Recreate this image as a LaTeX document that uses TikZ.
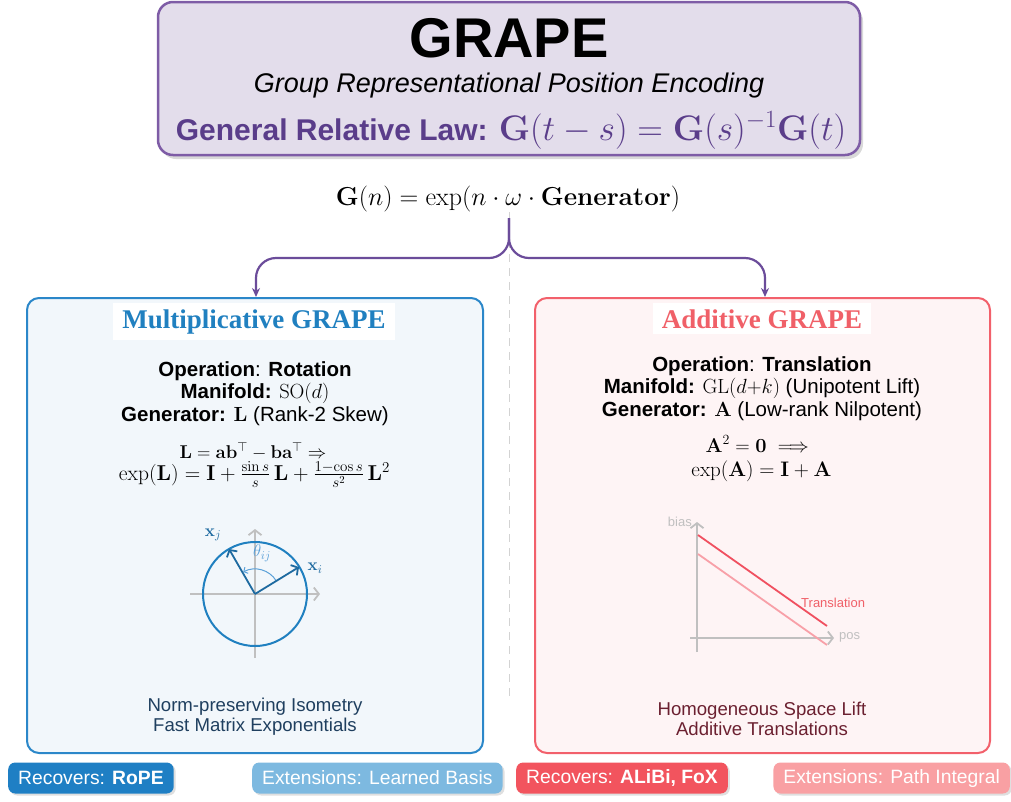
\RequirePackage{fix-cm}
\documentclass[tikz,border=0pt]{standalone}
\usepackage{amsmath}
\usepackage[no-math]{fontspec}
\newfontfamily\hv{Liberation Sans}
\newfontfamily\tms{Liberation Serif}
\usetikzlibrary{shadows,arrows.meta}
\definecolor{pborder}{HTML}{7E5CA6}
\definecolor{pfill}{HTML}{E3DDEB}
\definecolor{ptext}{HTML}{5A3D8A}
\definecolor{pbrace}{HTML}{6B4C9A}
\definecolor{bborder}{HTML}{2B87C9}
\definecolor{bfill}{HTML}{F2F7FB}
\definecolor{btitle}{HTML}{2080C0}
\definecolor{bdark}{HTML}{1E6AA0}
\definecolor{blight}{HTML}{5AA0D8}
\definecolor{btext}{HTML}{1F3F5F}
\definecolor{rborder}{HTML}{F2606B}
\definecolor{rfill}{HTML}{FEF4F5}
\definecolor{rtitle}{HTML}{F06068}
\definecolor{rline}{HTML}{F05060}
\definecolor{rlight}{HTML}{F8A0A8}
\definecolor{rtext}{HTML}{6B2030}
\definecolor{axgray}{HTML}{C0C0C0}
\definecolor{pillA}{HTML}{1F7FC4}
\definecolor{pillB}{HTML}{7DB9E0}
\definecolor{pillC}{HTML}{F2545E}
\definecolor{pillD}{HTML}{F9A0A3}
\tikzset{
  panel/.style={draw, rounded corners=12pt, line width=2pt},
  ptitle/.style={fill=white, inner xsep=9pt, inner ysep=6pt, anchor=base, font=\tms\bfseries\fontsize{27}{30}\selectfont},
  info/.style={anchor=base, inner sep=0pt, font=\hv\fontsize{20.5}{23}\selectfont},
  formula/.style={anchor=base, inner sep=0pt, font=\fontsize{20}{24}\selectfont},
  foot/.style={anchor=base, inner sep=0pt, font=\hv\fontsize{18.6}{20}\selectfont},
  pillbox/.style={rounded corners=7pt, inner xsep=10pt, minimum height=31pt, text=white, anchor=west,
    font=\hv\fontsize{19.3}{20}\selectfont,
    drop shadow={shadow xshift=2pt, shadow yshift=-2pt, opacity=0.25}},
  axis/.style={draw=axgray, line width=1.8pt, -{Straight Barb[length=5pt,width=13pt,line width=1.8pt]}},
  vec/.style={draw=bdark, line width=1.8pt, -{Straight Barb[length=5pt,width=12pt,line width=1.8pt]}},
  brace/.style={draw=pbrace, line width=2.2pt, -{Stealth[length=9pt,width=8pt]}},
}
\begin{document}
\begin{tikzpicture}[x=1pt,y=-1pt]
\useasboundingbox (0,0) rectangle (1011,801);
% top box
\node[draw=pborder, fill=pfill, rounded corners=15pt, line width=2.5pt,
  minimum width=702pt, minimum height=153pt,
  drop shadow={shadow xshift=3pt, shadow yshift=-4pt, opacity=0.3}] (top) at (509,78.5) {};
\node[anchor=base, inner sep=0pt, font=\hv\bfseries\fontsize{56}{60}\selectfont] (grape) at (509,57) {GRAPE};
\node[anchor=base, inner sep=0pt, font=\hv\itshape\fontsize{27}{30}\selectfont] (sub) at (509,92) {Group Representational Position Encoding};
\node[anchor=base, inner sep=0pt, text=ptext, font=\hv\bfseries\fontsize{30}{34}\selectfont] (law) at (511,140)
  {General Relative Law: {\fontsize{35.5}{40}\selectfont$\mathbf{G}(t-s)=\mathbf{G}(s)^{-1}\mathbf{G}(t)$}};
% generator formula
\node[anchor=base, inner sep=0pt, font=\fontsize{26}{30}\selectfont] (gen) at (508,205)
  {$\mathbf{G}(n)=\exp(n\cdot\omega\cdot\mathbf{Generator})$};
\coordinate (split) at (509,218);
\coordinate (dtop) at (509,212);
\coordinate (dbot) at (509,700);
\draw[axgray!70, line width=1pt, dash pattern=on 8pt off 6pt] (dtop) -- (dbot);
% panels
\node[panel, draw=bborder, fill=bfill, minimum width=456pt, minimum height=455pt] (left) at (255,525.5) {};
\node[panel, draw=rborder, fill=rfill, minimum width=455pt, minimum height=455pt] (right) at (762.5,525.5) {};
% brace
\coordinate (lx) at (256,0);
\coordinate (rx) at (765,0);
\draw[brace] (split) -- (509,238) to[out=-90,in=0] (489,258) -- (276,258) to[out=180,in=90] (256,278) -- (left.north -| lx);
\draw[brace] (split) -- (509,238) to[out=-90,in=180] (529,258) -- (745,258) to[out=0,in=90] (765,278) -- (right.north -| rx);
% left panel content
\node[ptitle, text=btitle] (mtitle) at (254,328) {Multiplicative GRAPE};
\node[info] (lop) at (255,376) {\bfseries Operation\mdseries: \bfseries Rotation};
\node[info] (lman) at (255,398.5) {\bfseries Manifold: \mdseries$\mathrm{SO}(d)$};
\node[info] (lgen) at (255,421) {\bfseries Generator: \mdseries$\mathbf{L}$ (Rank-2 Skew)};
\node[formula, font=\fontsize{18.5}{22}\selectfont] (lf1) at (253,458) {$\mathbf{L}=\mathbf{a}\mathbf{b}^{\top}-\mathbf{b}\mathbf{a}^{\top}\Rightarrow$};
\node[formula, font=\fontsize{21.5}{24}\selectfont] (lf2) at (254.5,480) {$\exp(\mathbf{L})=\mathbf{I}+\frac{\sin s}{s}\,\mathbf{L}+\frac{1-\cos s}{s^2}\,\mathbf{L}^2$};
% circle diagram
\coordinate (o) at (255,594);
\coordinate (hx0) at (190,594);
\coordinate (hx1) at (320,594);
\coordinate (vy0) at (255,658);
\coordinate (vy1) at (255,529);
\draw[axis] (hx0) -- (hx1);
\draw[axis] (vy0) -- (vy1);
\draw[draw=btitle, line width=2pt] (o) circle[radius=52];
\draw[draw=blight, line width=1pt, -{Straight Barb[length=3pt,width=7pt]}] ([shift={(-32:25)}]o) arc[start angle=-32, end angle=-118, radius=25];
\coordinate (xi) at (299,567);
\coordinate (xj) at (229,549);
\draw[vec] (o) -- (xi);
\draw[vec] (o) -- (xj);
\node[text=blight, font=\fontsize{17}{18}\selectfont] (th) at (262,553) {$\theta_{ij}$};
\node[text=bdark, font=\fontsize{17}{18}\selectfont] (lxj) at (213,535) {$\mathbf{x}_j$};
\node[text=bdark, font=\fontsize{17}{18}\selectfont] (lxi) at (315,568) {$\mathbf{x}_i$};
\node[foot, text=btext] (lft1) at (255,711) {Norm-preserving Isometry};
\node[foot, text=btext] (lft2) at (255,731) {Fast Matrix Exponentials};
% right panel content
\node[ptitle, text=rtitle] (atitle) at (762,328) {Additive GRAPE};
\node[info] (rop) at (762,371) {\bfseries Operation\mdseries: \bfseries Translation};
\node[info] (rman) at (762,393.5) {\bfseries Manifold: \mdseries$\mathrm{GL}(d{+}k)$ (Unipotent Lift)};
\node[info] (rgen) at (762,416) {\bfseries Generator: \mdseries$\mathbf{A}$ (Low-rank Nilpotent)};
\node[formula] (rf1) at (760,452) {$\mathbf{A}^2=\mathbf{0}\implies$};
\node[formula, font=\fontsize{21}{24}\selectfont] (rf2) at (761.5,476) {$\exp(\mathbf{A})=\mathbf{I}+\mathbf{A}$};
% plot
\coordinate (py0) at (697,652);
\coordinate (py1) at (697,522);
\coordinate (px0) at (690,638);
\coordinate (px1) at (834,638);
\draw[axis] (py0) -- (py1);
\draw[axis] (px0) -- (px1);
\coordinate (r1a) at (698,535);
\coordinate (r1b) at (827,626);
\coordinate (r2a) at (698,554);
\coordinate (r2b) at (827,645);
\draw[rline, line width=1.8pt] (r1a) -- (r1b);
\draw[rlight, line width=1.8pt] (r2a) -- (r2b);
\node[anchor=east, inner sep=0pt, text=axgray, font=\hv\fontsize{13}{14}\selectfont] (bias) at (692,522) {bias};
\node[anchor=west, inner sep=0pt, text=axgray, font=\hv\fontsize{13}{14}\selectfont] (pos) at (839,637) {pos};
\node[anchor=west, inner sep=0pt, text=rtitle, font=\hv\fontsize{13}{14}\selectfont] (tr) at (801,603) {Translation};
\node[foot, text=rtext] (rft1) at (762,715) {Homogeneous Space Lift};
\node[foot, text=rtext] (rft2) at (762,735) {Additive Translations};
% pills
\node[pillbox, fill=pillA] (p1) at (8,778) {Recovers: \textbf{RoPE}};
\node[pillbox, fill=pillB] (p2) at (252,778) {Extensions: Learned Basis};
\node[pillbox, fill=pillC] (p3) at (516,778) {Recovers: \textbf{ALiBi, FoX}};
\node[pillbox, fill=pillD, anchor=east] (p4) at (1010,778) {Extensions: Path Integral};
\end{tikzpicture}
\end{document}
